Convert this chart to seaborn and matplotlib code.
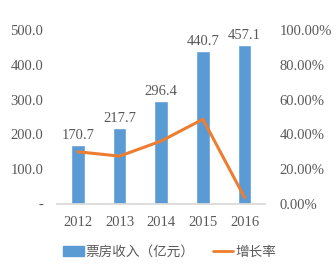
import matplotlib
matplotlib.use("Agg")
import matplotlib.pyplot as plt
import seaborn as sns
import pandas as pd
from matplotlib.patches import Patch
from matplotlib.lines import Line2D

years = ["2012", "2013", "2014", "2015", "2016"]
revenue = [170.7, 217.7, 296.4, 440.7, 457.1]
growth = [30.0, 27.5, 36.2, 48.7, 3.7]
left_ticks = [0, 100, 200, 300, 400, 500]
left_labels = ["-", "100.0", "200.0", "300.0", "400.0", "500.0"]
right_ticks = [0, 20, 40, 60, 80, 100]
right_labels = ["0.00%", "20.00%", "40.00%", "60.00%", "80.00%", "100.00%"]
bar_name = "票房收入（亿元）"
line_name = "增长率"

sns.set_theme(style="white")
plt.rcParams['font.family'] = ['Liberation Serif', 'Noto Sans CJK SC', 'DejaVu Sans']

bar_color = "#5B9BD5"
line_color = "#ED7D31"
txt = "#595959"

df = pd.DataFrame({"year": years, "revenue": revenue, "growth": growth})

fig = plt.figure(figsize=(3.36, 2.72), dpi=100)
ax = fig.add_axes([0.17, 0.25, 0.62, 0.64])
sns.barplot(data=df, x="year", y="revenue", color=bar_color, width=0.33,
            saturation=1, ax=ax)
ax.set_xlim(-0.5, 4.5)
ax.set_ylim(0, 500)
ax.set_yticks(left_ticks)
ax.set_yticklabels(left_labels)
ax.set_xlabel("")
ax.set_ylabel("")
for i, v in enumerate(revenue):
    ax.text(i, v + 8, f"{v:.1f}", ha="center", va="bottom", fontsize=10.5, color=txt)
for s in ["top", "right", "left"]:
    ax.spines[s].set_visible(False)
ax.spines["bottom"].set_color("#D9D9D9")
ax.tick_params(axis="both", length=0, labelsize=10.5, colors=txt)
ax.tick_params(axis="x", pad=9)
ax.tick_params(axis="y", pad=10)

ax2 = ax.twinx()
sns.lineplot(x=list(range(len(years))), y=growth, color=line_color, linewidth=2.2, ax=ax2)
ax2.set_ylim(0, 100)
ax2.set_yticks(right_ticks)
ax2.set_yticklabels(right_labels)
for s in ["top", "right", "left", "bottom"]:
    ax2.spines[s].set_visible(False)
ax2.tick_params(axis="y", length=0, labelsize=10.5, colors=txt, pad=10)

handles = [Patch(facecolor=bar_color, edgecolor=bar_color),
           Line2D([0], [0], color=line_color, linewidth=2)]
fig.legend(handles, [bar_name, line_name], loc="center", bbox_to_anchor=(0.505, 0.075),
           ncol=2, frameon=False, labelcolor=txt,
           handlelength=1.5, handleheight=0.7, handletextpad=0.15, columnspacing=1.3,
           prop={'family': ['Noto Sans CJK SC', 'DejaVu Sans'], 'size': 9.8})

fig.savefig("out.png", dpi=100, facecolor="white")
